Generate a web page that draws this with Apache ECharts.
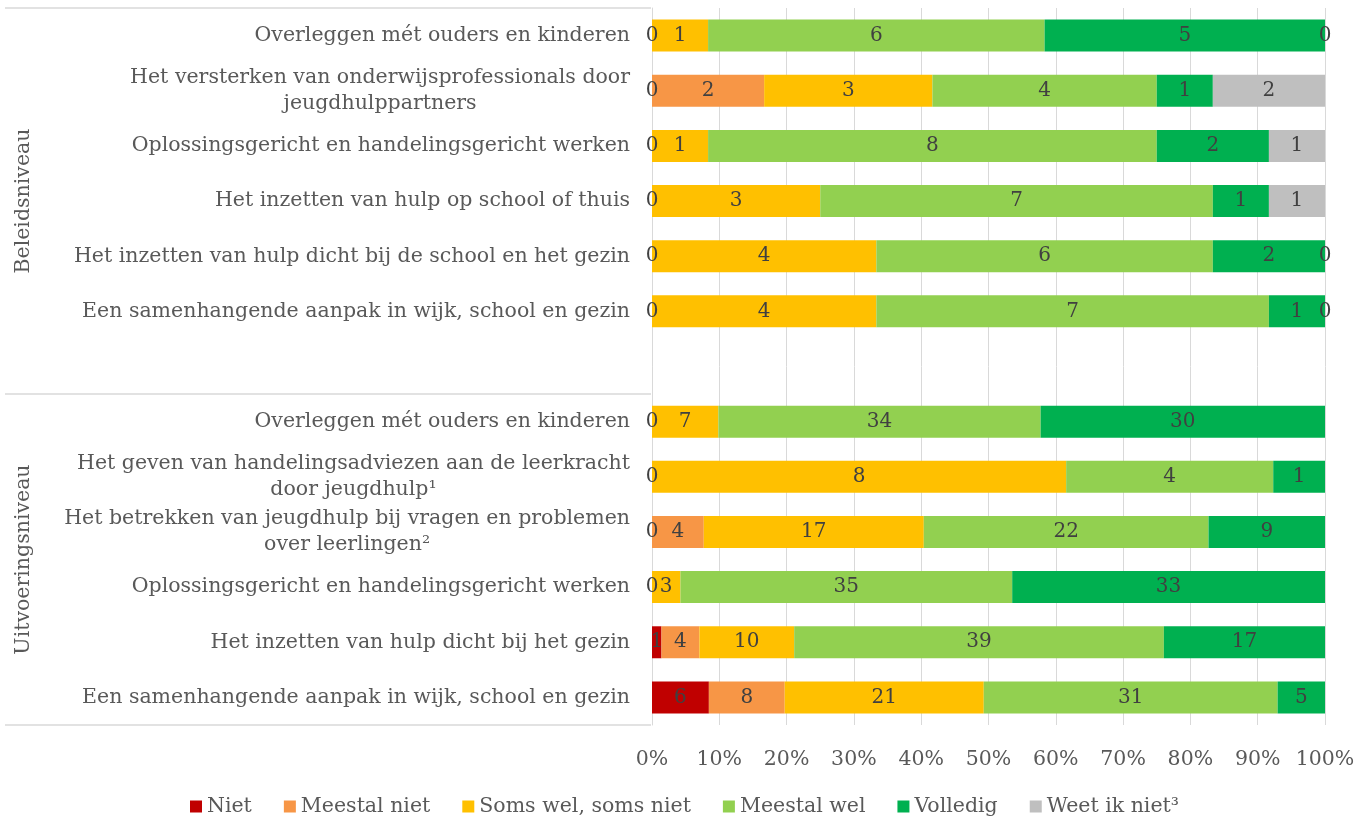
<!DOCTYPE html>
<html>
<head>
<meta charset="utf-8">
<script src="https://cdn.jsdelivr.net/npm/echarts@6/dist/echarts.min.js"></script>
<style>
  html, body { margin: 0; padding: 0; background: #fff; }
  #chart { width: 1369px; height: 816px; }
</style>
</head>
<body>
<div id="chart"></div>
<script>
// categories, top to bottom (empty row separates the two groups)
var categories = [
  'Overleggen mét ouders en kinderen',
  'Het versterken van onderwijsprofessionals door\njeugdhulppartners',
  'Oplossingsgericht en handelingsgericht werken',
  'Het inzetten van hulp op school of thuis',
  'Het inzetten van hulp dicht bij de school en het gezin',
  'Een samenhangende aanpak in wijk, school en gezin',
  '',
  'Overleggen mét ouders en kinderen',
  'Het geven van handelingsadviezen aan de leerkracht\ndoor jeugdhulp¹',
  'Het betrekken van jeugdhulp bij vragen en problemen\nover leerlingen²',
  'Oplossingsgericht en handelingsgericht werken',
  'Het inzetten van hulp dicht bij het gezin',
  'Een samenhangende aanpak in wijk, school en gezin'
]
var groupNames = ['Beleidsniveau', 'Uitvoeringsniveau']
var groupSizes = [7, 6]

var seriesNames = ['Niet', 'Meestal niet', 'Soms wel, soms niet', 'Meestal wel', 'Volledig', 'Weet ik niet³']
var seriesColors = ['#C00000', '#F79646', '#FFC000', '#92D050', '#00B050', '#BFBFBF']

// counts per answer (null = not shown)
var niet        = [null, 0, null, null, null, null, null, null, null, 0, null, 1, 6]
var meestalNiet = [0, 2, 0, 0, 0, 0, null, 0, 0, 4, 0, 4, 8]
var somsWel     = [1, 3, 1, 3, 4, 4, null, 7, 8, 17, 3, 10, 21]
var meestalWel  = [6, 4, 8, 7, 6, 7, null, 34, 4, 22, 35, 39, 31]
var volledig    = [5, 1, 2, 1, 2, 1, null, 30, 1, 9, 33, 17, 5]
var weetIkNiet  = [0, 2, 1, 1, 0, 0, null, null, null, null, null, null, null]

var xTicks = [0, 10, 20, 30, 40, 50, 60, 70, 80, 90, 100]

var counts = [niet, meestalNiet, somsWel, meestalWel, volledig, weetIkNiet]
var totals = categories.map(function (c, i) {
  return counts.reduce(function (s, arr) { return s + (arr[i] || 0) }, 0)
})

var FONT = '"DejaVu Serif", "Liberation Serif", serif'
var TXT = '#595959'
var FS = 20.5

var groupCenters = []
var groupEdges = [0]
var acc = 0
groupSizes.forEach(function (n) {
  groupCenters.push(acc + n / 2)
  acc += n
  groupEdges.push(acc)
})
// only the group borders get a visible line
var groupLineColors = []
for (var k = 0; k <= acc * 2; k++) {
  groupLineColors.push(groupEdges.indexOf(k / 2) >= 0 ? '#D9D9D9' : 'rgba(0,0,0,0)')
}

var series = counts.map(function (arr, si) {
  return {
    name: seriesNames[si],
    type: 'bar',
    stack: 'total',
    xAxisIndex: 0,
    yAxisIndex: 0,
    barCategoryGap: '42%',
    itemStyle: { color: seriesColors[si] },
    label: {
      show: true,
      position: 'inside',
      color: '#404040',
      fontFamily: FONT,
      fontSize: 20,
      formatter: function (p) {
        return String(counts[p.seriesIndex][p.dataIndex])
      }
    },
    data: arr.map(function (n, i) {
      return n === null ? null : n / totals[i] * 100
    })
  }
})

var myChart = echarts.init(document.getElementById('chart'))
var option = {
  animation: false,
  legend: {
    top: 791,
    left: 'center',
    icon: 'rect',
    itemWidth: 12,
    itemHeight: 12,
    itemGap: 32,
    textStyle: { color: TXT, fontFamily: FONT, fontSize: FS },
    data: seriesNames
  },
  grid: [
    { left: 652, right: 44, top: 8, bottom: 91 },
    { left: 5, right: 718, top: 8, bottom: 91 }
  ],
  xAxis: [
    {
      gridIndex: 0,
      type: 'value',
      min: 0,
      max: 100,
      interval: 10,
      axisLine: { show: false },
      axisTick: { show: false },
      splitLine: { lineStyle: { color: '#D9D9D9', width: 1 } },
      axisLabel: {
        margin: 24,
        color: TXT,
        fontFamily: FONT,
        fontSize: FS,
        formatter: function (v) { return xTicks.indexOf(v) >= 0 ? v + '%' : '' }
      }
    },
    { gridIndex: 1, type: 'value', min: 0, max: 1, show: false }
  ],
  yAxis: [
    {
      gridIndex: 0,
      type: 'category',
      inverse: true,
      data: categories,
      axisLine: { show: true, lineStyle: { color: '#D9D9D9' } },
      axisTick: { show: false },
      axisLabel: {
        margin: 22,
        interval: 0,
        formatter: function (v) {
          return v.split('\n').map(function (s) { return '{c|' + s + '}' }).join('\n')
        },
        rich: {
          c: { align: 'center', color: TXT, fontFamily: FONT, fontSize: FS, lineHeight: 26 }
        }
      }
    },
    {
      gridIndex: 1,
      type: 'value',
      inverse: true,
      min: 0,
      max: acc,
      interval: 0.5,
      axisLine: { show: false },
      axisTick: { show: false },
      splitLine: { show: true, lineStyle: { color: groupLineColors, width: 1.5 } },
      axisLabel: {
        inside: true,
        rotate: 90,
        margin: 8,
        color: TXT,
        fontFamily: FONT,
        fontSize: FS,
        formatter: function (v) {
          var gi = groupCenters.indexOf(v)
          return gi >= 0 ? groupNames[gi] : ''
        }
      }
    }
  ],
  series: series
}
myChart.setOption(option)
</script>
</body>
</html>
